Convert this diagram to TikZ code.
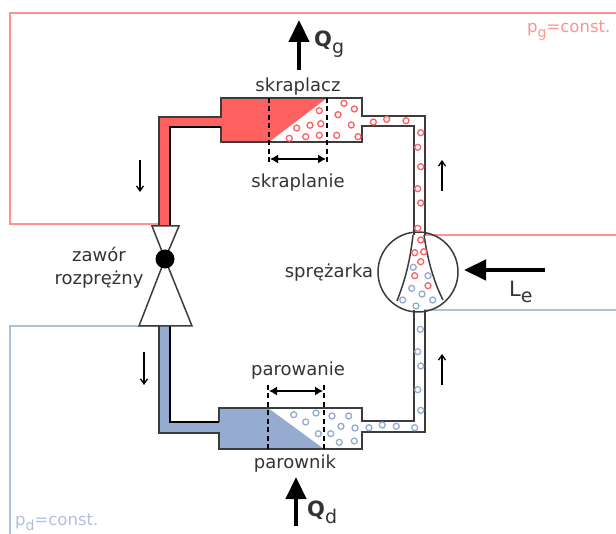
\documentclass[tikz,border=0pt]{standalone}
\usepackage{fontspec}
\setmainfont{DejaVu Sans}
\usetikzlibrary{arrows.meta}
\definecolor{myred}{RGB}{255,96,96}
\definecolor{myblue}{RGB}{149,171,207}
\definecolor{mylinered}{RGB}{255,145,145}
\definecolor{mylineblue}{RGB}{175,192,221}
\definecolor{mygrey}{RGB}{60,60,60}
\newcommand{\lowtxt}[2]{\raisebox{-0.32em}{\fontsize{#1}{#1}\selectfont #2}}

\begin{document}
\begin{tikzpicture}[x=1pt,y=-1pt,
    every node/.style={font=\fontsize{18}{23}\selectfont,text=black!80,inner sep=0pt},
    wall/.style={mygrey,line width=1.8pt},
    thickwall/.style={black,line width=2.8pt},
    bubblered/.style={draw=myred,line width=1.3pt},
    bubbleblue/.style={draw=myblue,line width=1.3pt},
    heatarrow/.style={-{Triangle[width=20pt,length=22pt]},black,line width=4.5pt},
    flowarrow/.style={-{Straight Barb[length=5pt,width=7pt]},black,line width=1.3pt},
    spanarrow/.style={{Latex[length=8pt,width=9pt]}-{Latex[length=8pt,width=9pt]},black,line width=1.3pt},
    guide/.style={dash pattern=on 5pt off 3.5pt,black,line width=1.3pt}]
    \useasboundingbox (0,0) rectangle (616,534);
    % pressure outlines
    \draw[mylinered,line width=1.4pt] (165,224) -- (10,224) -- (10,13) -- (616,13);
    \draw[mylinered,line width=1.4pt] (424,235) -- (616,235);
    \draw[mylineblue,line width=1.4pt] (165,326) -- (10,326) -- (10,534);
    \draw[mylineblue,line width=1.4pt] (424,310) -- (616,310);
    % liquid fill
    \fill[myred] (159,226) -- (159,117) -- (221,117) -- (221,98) -- (327,98) -- (269,142) -- (221,142) -- (221,127) -- (170,127) -- (170,226) -- cycle;
    \fill[myblue] (159,326) -- (159,433) -- (219,433) -- (219,449) -- (324,449) -- (268,408) -- (219,408) -- (219,422) -- (170,422) -- (170,326) -- cycle;
    % pipes
    \draw[wall] (159,226) -- (159,117) -- (221,117) -- (221,98) -- (362,98) -- (362,116) -- (425,116) -- (425,235);
    \draw[wall] (221,127) -- (221,142) -- (362,142) -- (362,126) -- (414,126) -- (414,235);
    \draw[thickwall] (170,226) -- (170,127) -- (221,127);
    \draw[wall] (159,326) -- (159,433) -- (219,433) -- (219,449) -- (362,449) -- (362,432) -- (425,432) -- (425,310);
    \draw[wall] (219,422) -- (219,408) -- (362,408) -- (362,421) -- (414,421) -- (414,310);
    \draw[thickwall] (170,326) -- (170,422) -- (219,422);
    % compressor
    \draw[wall,line width=1.5pt] (418,272) circle (40);
    \draw[wall,line width=1.5pt] (413,235) .. controls (410,262) and (405,280) .. (397,301);
    \draw[wall,line width=1.5pt] (424,235) .. controls (428,262) and (434,282) .. (443,300);
    % expansion valve
    \draw[mygrey,fill=white,line width=1.5pt] (152,226) -- (179,226) -- (165,259) -- cycle;
    \draw[mygrey,fill=white,line width=1.5pt] (139,326) -- (192,326) -- (165,259) -- cycle;
    \fill[black] (165,259) circle (9.5);
    % bubbles
    \foreach \x/\y in {319.3/110.7,296.7/128,310/125.3,320.7/123.7,289.3/138.3,305.7/136.7,319.3/135.3,344/103.3,354.3/109,338/114.7,351.3/125,336.7/135.3,358/136.7,373.3/122,386.7/119.3,406/120.7,420.7/132.7,417.7/147.3,420.7/166.7,417.7/188.7,420.7/203,417.7/228.3,420.7/240,414.7/252.7,423.7/251.7,420.7/261.7,414.7/275.7,428/285.7} {
        \draw[bubblered] (\x,\y) circle (3);
    }
    \foreach \x/\y in {413.3/267.3,428/275.7,411.7/288.3,422/294,402.7/300,432.7/300,416/306,420.3/329.3,417.7/351.7,420.7/366,417.7/389.7,420.7/410.3,414.7/427.7,396.3/426.3,382.3/425,369/427.7,293.7/414.7,305.7/422,316/413,318.3/433.7,332/416,348.7/416,341/426.3,355/428,330.7/433.7,339.3/442.3,354.3/441} {
        \draw[bubbleblue] (\x,\y) circle (3);
    }
    % phase change limits
    \draw[guide] (269,98) -- (269,165);
    \draw[guide] (327,98) -- (327,165);
    \draw[guide] (268,385) -- (268,449);
    \draw[guide] (324,385) -- (324,449);
    \coordinate (cond-a) at (270,159);
    \coordinate (cond-b) at (326,159);
    \coordinate (evap-a) at (269,391);
    \coordinate (evap-b) at (323,391);
    \draw[spanarrow] (cond-a) -- (cond-b);
    \draw[spanarrow] (evap-a) -- (evap-b);
    % labels
    \node (skraplacz) at (298,87) {skraplacz};
    \node (skraplanie) at (298,183) {skraplanie};
    \node (parowanie) at (298,371) {parowanie};
    \node (parownik) at (295,464) {parownik};
    \node[align=center] (zawor) at (99,268) {zawór\\rozprężny};
    \node (sprezarka) at (329,273) {sprężarka};
    \node[anchor=west,text=mylinered,font=\fontsize{16.5}{20}\selectfont] (pg) at (527,31) {p\lowtxt{14}{g}=const.};
    \node[anchor=west,text=mylineblue,font=\fontsize{16.5}{20}\selectfont] (pd) at (15,522) {p\lowtxt{14}{d}=const.};
    \node[anchor=west,font=\bfseries\fontsize{21}{24}\selectfont] (qg) at (314,44) {Q\lowtxt{19}{\mdseries g}};
    \node[anchor=west,font=\bfseries\fontsize{21}{24}\selectfont] (qd) at (307,512) {Q\lowtxt{19}{\mdseries d}};
    \node[anchor=west,font=\fontsize{21}{24}\selectfont] (le) at (509,292) {L\lowtxt{19}{e}};
    % arrows
    \coordinate (qg-a) at (299,70);
    \coordinate (qg-b) at (299,20);
    \coordinate (qd-a) at (296,526);
    \coordinate (qd-b) at (296,477);
    \coordinate (le-a) at (545,270);
    \coordinate (le-b) at (464,270);
    \draw[heatarrow] (qg-a) -- (qg-b);
    \draw[heatarrow] (qd-a) -- (qd-b);
    \draw[heatarrow] (le-a) -- (le-b);
    \coordinate (fa) at (140,160);
    \coordinate (fb) at (140,192);
    \coordinate (fc) at (144,352);
    \coordinate (fd) at (144,385);
    \coordinate (fe) at (442,191);
    \coordinate (ff) at (442,160);
    \coordinate (fg) at (442,385);
    \coordinate (fh) at (442,354);
    \draw[flowarrow] (fa) -- (fb);
    \draw[flowarrow] (fc) -- (fd);
    \draw[flowarrow] (fe) -- (ff);
    \draw[flowarrow] (fg) -- (fh);
\end{tikzpicture}
\end{document}
